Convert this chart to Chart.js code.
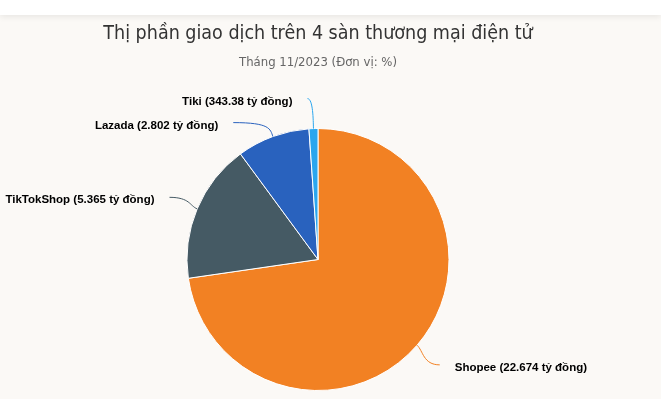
<!DOCTYPE html>
<html>
<head>
<meta charset="utf-8">
<script src="https://cdn.jsdelivr.net/npm/chart.js@4.4.0/dist/chart.umd.min.js"></script>
<style>
  html, body { margin: 0; padding: 0; background: #fbf9f6; overflow: hidden; }
  #topbar {
    position: absolute; left: 0; top: 0; width: 661px; height: 15px;
    background: #ffffff; box-shadow: 0 2px 6px rgba(0,0,0,0.08); z-index: 2;
  }
  #wrap { position: absolute; left: 0; top: 0; width: 661px; height: 399px; }
</style>
</head>
<body>
<div id="topbar"></div>
<div id="wrap"><canvas id="chart" width="661" height="399"></canvas></div>
<script>
// data
const categories = ['Shopee', 'TikTokShop', 'Lazada', 'Tiki'];
const values = [22674, 5365, 2802, 343.38]; // tỷ đồng
const valueTexts = ['22.674', '5.365', '2.802', '343.38'];
const colors = ['#f28123', '#455a64', '#2962be', '#2ba6ee'];

// labels with curved connectors, placed outside the pie
const outsideLabels = {
  id: 'outsideLabels',
  afterDatasetsDraw(chart) {
    const ctx = chart.ctx;
    const arcs = chart.getDatasetMeta(0).data;
    const dist = 30;
    const items = arcs.map((arc, i) => {
      const p = arc.getProps(['x', 'y', 'startAngle', 'endAngle', 'outerRadius'], true);
      const a = (p.startAngle + p.endAngle) / 2;
      const R = p.outerRadius + dist;
      return {
        i, a, cx: p.x, cy: p.y, r: p.outerRadius, R,
        right: Math.cos(a) >= 0,
        y: p.y + R * Math.sin(a)
      };
    });

    // spread labels vertically on each side
    [true, false].forEach(side => {
      const list = items.filter(it => it.right === side).sort((m, n) => m.y - n.y);
      for (let k = 1; k < list.length; k++) {
        if (list[k].y - list[k - 1].y < 24) list[k].y = list[k - 1].y + 24;
      }
    });

    ctx.save();
    ctx.font = 'bold 11.5px "Liberation Sans", Arial, sans-serif';
    ctx.textBaseline = 'middle';
    items.forEach(it => {
      const ex = it.cx + it.r * Math.cos(it.a);
      const ey = it.cy + it.r * Math.sin(it.a);
      const dy = it.y - it.cy;
      let dx = Math.sqrt(Math.max(0, it.R * it.R - dy * dy));
      let endX = it.right ? it.cx + dx : it.cx - dx;
      if (it.right) endX = Math.max(endX, ex + 6); else endX = Math.min(endX, ex - 6);
      const c1x = it.cx + (it.r + 8) * Math.cos(it.a);
      const c1y = it.cy + (it.r + 8) * Math.sin(it.a);

      ctx.strokeStyle = colors[it.i];
      ctx.lineWidth = 1;
      ctx.beginPath();
      ctx.moveTo(ex, ey);
      ctx.bezierCurveTo(c1x, c1y, c1x, it.y, endX, it.y);
      ctx.stroke();

      const text = categories[it.i] + ' (' + valueTexts[it.i] + ' tỷ đồng)';
      ctx.fillStyle = '#000000';
      ctx.textAlign = it.right ? 'left' : 'right';
      ctx.fillText(text, it.right ? endX + 15 : endX - 15, it.y + 3);
    });
    ctx.restore();
  }
};

const ctx = document.getElementById('chart').getContext('2d');
new Chart(ctx, {
  type: 'pie',
  data: {
    labels: categories,
    datasets: [{
      data: values,
      backgroundColor: colors,
      borderColor: '#ffffff',
      borderWidth: 1
    }]
  },
  options: {
    responsive: false,
    animation: false,
    layout: { padding: { left: 0, right: 25, top: 0, bottom: 8 } },
    plugins: {
      legend: { display: false },
      tooltip: { enabled: false },
      title: {
        display: true,
        text: 'Thị phần giao dịch trên 4 sàn thương mại điện tử',
        color: '#333333',
        font: { family: '"Liberation Sans Narrow", "DejaVu Sans Condensed", sans-serif', size: 19.5, weight: 'normal' },
        padding: { top: 22, bottom: 9 }
      },
      subtitle: {
        display: true,
        text: 'Tháng 11/2023 (Đơn vị: %)',
        color: '#666666',
        font: { family: '"Liberation Sans Narrow", "DejaVu Sans Condensed", sans-serif', size: 13, weight: 'normal' },
        padding: { top: 0, bottom: 58 }
      }
    }
  },
  plugins: [outsideLabels]
});
</script>
</body>
</html>
